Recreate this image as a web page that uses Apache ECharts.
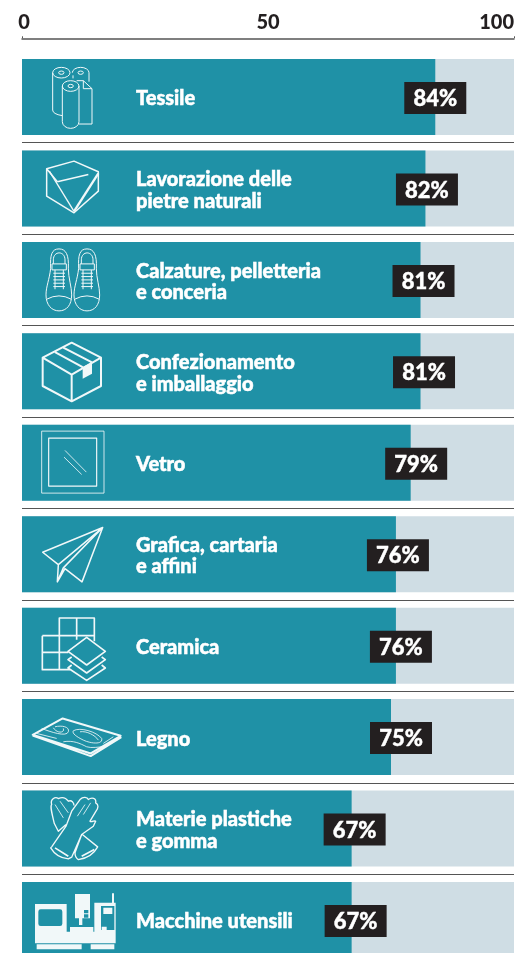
<!DOCTYPE html>
<html><head><meta charset="utf-8">
<style>html,body{margin:0;padding:0;background:#fff;overflow:hidden}#c{width:518px;height:953px}</style>
<script src="https://cdn.jsdelivr.net/npm/echarts@6/dist/echarts.min.js"></script>
</head><body><div id="c"></div>
<script>
const categories = ['Tessile','Lavorazione delle\npietre naturali','Calzature, pelletteria\ne conceria','Confezionamento\ne imballaggio','Vetro','Grafica, cartaria\ne affini','Ceramica','Legno','Materie plastiche\ne gomma','Macchine utensili'];
const values = [84,82,81,81,79,76,76,75,67,67];
const axisTicks = [0,50,100];

const TEAL='#1f91a6', PALE='#cfdde4', DARK='#231f20', INK='#231f20', ICON='#f1f8f9';
const FONT='Lato';
const badgeNudge=[0,1.5,3,3.5,5.5,2,5,10,3,4];

const S=(d,w)=>({d,w:w||3});
const F=(d)=>({d,fill:ICON});
const T=(d)=>({d,fill:TEAL});
const shoe=x=>`M${x} 27C${x-22} 27 ${x-27} 45 ${x-25} 85C${x-29} 120 ${x-39} 140 ${x-39} 165C${x-39} 195 ${x-22} 213 ${x} 213C${x+23} 213 ${x+38} 195 ${x+38} 165C${x+38} 140 ${x+28} 115 ${x+28} 85C${x+30} 45 ${x+21} 27 ${x} 27Z`+
 `M${x-17} 72V60C${x-17} 32 ${x+18} 32 ${x+18} 60V72M${x-21} 72H${x+22}V90H${x-21}Z`+
 `M${x-17} 100H${x+18}M${x-17} 110H${x+18}M${x-17} 120H${x+18}M${x-17} 130H${x+18}M${x-17} 140H${x+18}M${x-12} 90V148M${x+13} 90V148`+
 `M${x-37} 178Q${x} 158 ${x+37} 178`;
const iconTop=[177,453,6,279,555,828,24,297,573,846];
const iconLayers=[
 [S('M158 218a26 16 0 1 1 52 0a26 16 0 1 1-52 0M158 218V330q0 12 29 17M176 218a8 5 0 1 1 16 0a8 5 0 1 1-16 0'),
  S('M217 218a25 16 0 1 1 50 0V245M234 218a8 5 0 1 1 16 0a8 5 0 1 1-16 0M219 226V235'),
  S('M187 258a25 16 0 1 1 50 0a25 16 0 1 1-50 0M187 258V365a25 20 0 0 0 50 0V258M204 258a8 5 0 1 1 16 0a8 5 0 1 1-16 0'),
  S('M230 242H250L276 266V372H237M250 242V266H276')],
 [S('M140 508L222 485L295 517V575L222 640L140 590ZM172 547L265 525M172 547L140 508',4.5),S('M148 515L222 636',4),S('M295 522L222 636',7)],
 [S(shoe(177)),S(shoe(261))],
 [S('M128 352L215 307L303 352V437L215 483L128 437ZM128 352L215 403L303 352M215 403V483M165 335L248 380M190 322L276 366',6),F('M248 380L276 366V400L248 415Z')],
 [S('M125 574H312V760H125Z',2.5),S('M146 595H290V739H146Z',3.5),S('M195 632L259 697M192 652L245 704',2.5)],
 [S('M308 862L128 936L175 973L172 1025L195 985L246 1025ZM308 862L175 973M308 862L190 983L172 1025',4.5)],
 [S('M127 108H178V55H283V125M127 108V210H210M230 55V120M178 108V210M127 158H205M178 108H283',5),
  {d:'M260 113L316 155L260 196L204 155Z',w:5,fill:TEAL},
  S('M215 172L204 180L260 220L316 180L305 172M215 196L204 205L260 242L316 205L305 196',5)],
 [S('M188 355L362 407L272 460L98 404ZM98 406L272 468L364 411',6),
  S('M125 385C150 395 200 412 205 395C210 380 185 375 165 380M160 383C170 400 195 400 190 385M220 392C240 380 290 395 305 415C310 435 270 430 250 420C230 410 215 400 220 392M240 395C260 392 285 405 295 420M190 425C220 420 240 430 260 440C275 445 295 440 315 440M110 400C130 405 150 410 170 415M310 430L340 410',2.5)],
 [S('M155 742L198 680L215 635L240 600C250 590 262 593 265 600C275 592 290 595 287 610C297 615 295 625 288 635L270 665C275 670 285 660 287 665L280 680L245 705L215 773L205 778Q170 775 152 745ZM198 675L175 695L163 672C155 640 150 620 155 615C150 600 165 590 175 597C190 590 200 598 205 605C215 600 222 610 222 618M247 705L293 742Q275 775 235 780Q225 775 225 760L245 705',4),
  S('M165 745L205 770M245 770L283 750',5),S('M165 615L190 655M180 605L205 640M255 615L232 650M272 610L250 645',2.5)],
 [F('M105 912H200V1000H105ZM105 995H347V1030H105ZM110 1033H245V1048H110ZM272 1033H343V1048H272ZM225 882H270V955H225ZM237 955H247V975H237ZM210 981H280V995H210ZM283 908H347V1000H283ZM336 880H342V908H336Z'),
  T('M122 928H180Q187 928 187 935V971Q187 978 180 978H122Q115 978 115 971V935Q115 928 122 928ZM252 930H265V940H252ZM252 943H265V953H252ZM303 918H343V990H303Z'),
  F('M310 923H337V942H310ZM305 980H320V990H305Z')]
];

function renderItem(params,api){
 const i=params.dataIndex, c=api.coord([0,i]), barEnd=api.coord([api.value(0),i]);
 const top=iconTop[i], box=`M66 ${top}M846 ${top+228}`;
 const children=iconLayers[i].map(l=>({type:'path',shape:{pathData:box+l.d,layout:'cover',x:0,y:0,width:780,height:228},
   style:{fill:l.fill||'none',stroke:l.w?ICON:'none',lineWidth:l.w||0,lineJoin:'round'}}));
 const icon={type:'group',x:c[0],y:c[1]-38,scaleX:1/3,scaleY:1/3,children};
 const name={type:'text',x:136,y:c[1]+2,style:{text:categories[i],fill:'#fff',stroke:'#fff',lineWidth:0.5,font:`900 20px ${FONT}`,align:'left',verticalAlign:'middle',lineHeight:21.5}};
 const bx=barEnd[0]+badgeNudge[i];
 const badge={type:'rect',shape:{x:bx-31,y:c[1]-15,width:62,height:32},style:{fill:DARK}};
 const pct={type:'text',x:bx,y:c[1]+2,style:{text:api.value(0)+'%',fill:'#fff',stroke:'#fff',lineWidth:0.4,font:`900 22px ${FONT}`,align:'center',verticalAlign:'middle'}};
 return {type:'group',children:[icon,name,badge,pct]};
}

const chart=echarts.init(document.getElementById('c'),null,{renderer:'canvas'});
chart.setOption({
 animation:false,
 grid:{left:22,top:51.3,width:492,height:914.4,containLabel:false,outerBoundsMode:'none'},
 xAxis:{type:'value',min:0,max:100,interval:50,position:'top',offset:13,
  axisLine:{show:true,lineStyle:{color:'#555',width:1.5}},
  axisTick:{show:true,customValues:[0,100],length:2,lineStyle:{color:'#555'}},
  splitLine:{show:false},
  axisLabel:{margin:6,color:INK,fontFamily:FONT,fontWeight:900,fontSize:20,alignMaxLabel:'right',customValues:axisTicks,
   formatter:v=>v===0?'{z|0}':String(v),
   rich:{z:{padding:[0,0,0,4],color:INK,fontFamily:FONT,fontWeight:900,fontSize:20}}}},
 yAxis:{type:'category',inverse:true,data:categories,axisLine:{show:false},axisTick:{show:false},axisLabel:{show:false},
  splitLine:{show:true,showMinLine:false,showMaxLine:false,lineStyle:{color:'#555',width:1}}},
 series:[
  {type:'bar',data:values,barWidth:76,itemStyle:{color:TEAL},showBackground:true,backgroundStyle:{color:PALE},silent:true,z:2},
  {type:'custom',data:values.map((v,i)=>[v,i]),encode:{x:0,y:1},renderItem,silent:true,z:3,clip:false}
 ]
});
</script></body></html>
